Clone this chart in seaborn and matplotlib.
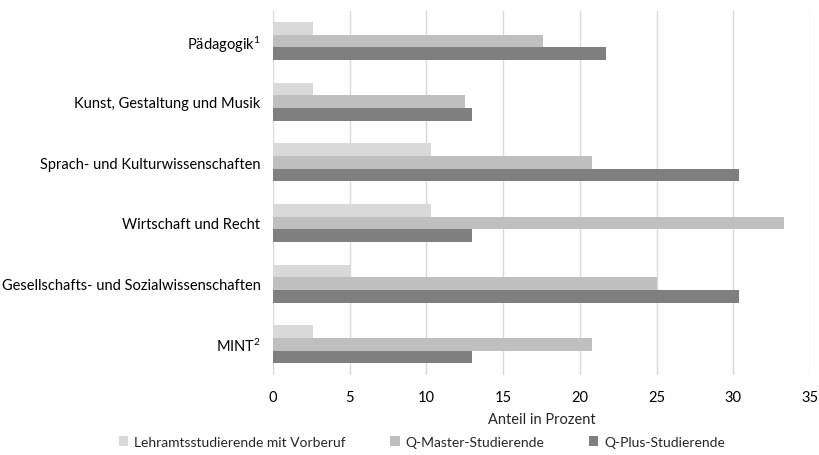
import matplotlib
matplotlib.use("Agg")
import matplotlib.pyplot as plt
import seaborn as sns
import pandas as pd

categories = ["Pädagogik$^{1}$", "Kunst, Gestaltung und Musik", "Sprach- und Kulturwissenschaften",
              "Wirtschaft und Recht", "Gesellschafts- und Sozialwissenschaften", "MINT$^{2}$"]
series = ["Lehramtsstudierende mit Vorberuf", "Q-Master-Studierende", "Q-Plus-Studierende"]
vorberuf = [2.6, 2.6, 10.3, 10.3, 5.1, 2.6]
qmaster = [17.6, 12.5, 20.8, 33.3, 25.0, 20.8]
qplus = [21.7, 13.0, 30.4, 13.0, 30.4, 13.0]
colors = ["#d9d9d9", "#bfbfbf", "#7f7f7f"]
xticks = [0, 5, 10, 15, 20, 25, 30, 35]

rows = []
for s, vals in zip(series, [vorberuf, qmaster, qplus]):
    for c, v in zip(categories, vals):
        rows.append({"cat": c, "val": v, "series": s})
df = pd.DataFrame(rows)

sns.set_theme(style="white")
plt.rcParams["font.family"] = ["Lato", "DejaVu Sans"]
plt.rcParams["mathtext.fontset"] = "custom"
plt.rcParams["mathtext.rm"] = "Lato"
plt.rcParams["mathtext.it"] = "Lato"
plt.rcParams["mathtext.default"] = "regular"

fs = 10.5
fig = plt.figure(figsize=(8.19, 4.56), dpi=100)
ax = fig.add_axes([0.3333, 0.1763, 0.6557, 0.798])
sns.barplot(data=df, y="cat", x="val", hue="series", order=categories, hue_order=series,
            palette=colors, width=0.63, orient="h", ax=ax, saturation=1, legend=True,
            edgecolor="none")
ax.set_xlim(0, 35)
ax.set_xticks(xticks)
ax.set_xticklabels([str(t) for t in xticks])
ax.grid(axis="x", color="#d9d9d9", linewidth=1)
ax.set_axisbelow(True)
for sp in ["top", "right", "bottom", "left"]:
    ax.spines[sp].set_visible(False)
ax.tick_params(axis="both", length=0, labelsize=fs, colors="#000000")
ax.tick_params(axis="x", pad=11)
ax.tick_params(axis="y", pad=9)
ax.set_ylabel("")
ax.set_xlabel("Anteil in Prozent", fontsize=fs, labelpad=6)
h, l = ax.get_legend_handles_labels()
ax.get_legend().remove()
fig.legend(h, l, loc="lower center", ncol=3, frameon=False, fontsize=10,
           handlelength=0.7, handleheight=0.7, columnspacing=3.2, handletextpad=0.4,
           bbox_to_anchor=(0.515, -0.012))
fig.savefig("out.png", dpi=100)
